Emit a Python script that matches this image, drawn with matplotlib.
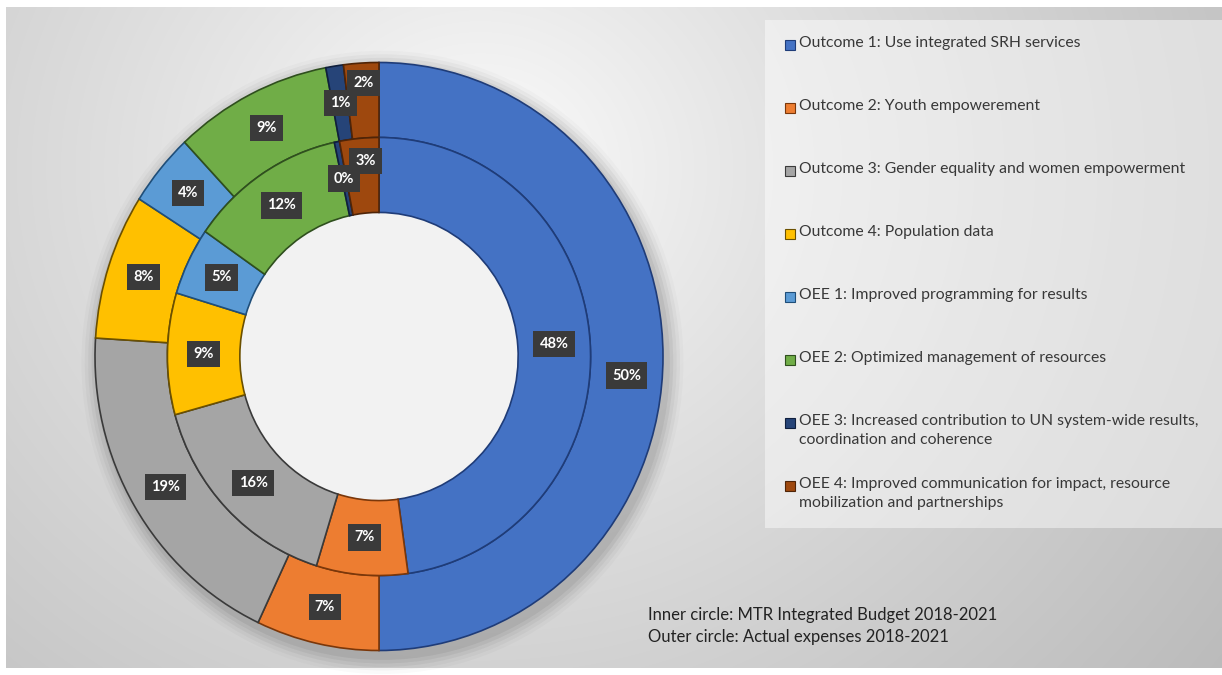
import matplotlib
import numpy as np

matplotlib.use("Agg")
import matplotlib.pyplot as plt
from matplotlib.patches import Ellipse, Rectangle

categories = [
    "Outcome 1: Use integrated SRH services",
    "Outcome 2: Youth empowerement",
    "Outcome 3: Gender equality and women empowerment",
    "Outcome 4: Population data",
    "OEE 1: Improved programming for results",
    "OEE 2: Optimized management of resources",
    "OEE 3: Increased contribution to UN system-wide results,\ncoordination and coherence",
    "OEE 4: Improved communication for impact, resource\nmobilization and partnerships",
]
outer_pct = [50, 7, 19, 8, 4, 9, 1, 2]          # actual expenses 2018-2021
inner_pct = [48, 7, 16, 9, 5, 12, 0.4, 3]       # MTR integrated budget 2018-2021
notes = [
    "Inner circle: MTR Integrated Budget 2018-2021",
    "Outer circle: Actual expenses 2018-2021",
]

colors = ["#4472C4", "#ED7D31", "#A5A5A5", "#FFC000",
          "#5B9BD5", "#70AD47", "#264478", "#9E480E"]
edges = ["#1F3C78", "#7A370A", "#3A3A3A", "#6B5000",
         "#1F4E79", "#2F4F1E", "#0F1F3D", "#4F2407"]

W, H = 1222, 675
FONT = "Lato"
fig = plt.figure(figsize=(W / 100, H / 100), dpi=100)
fig.patch.set_facecolor("white")

# soft radial backdrop
bg = fig.add_axes([6 / W, 7 / H, (W - 6) / W, 661 / H])
yy, xx = np.mgrid[7:668, 6:W]
d = np.hypot(xx - 480, (yy - 170) * 1.1)
v = 1 - 0.26 * np.clip(d / 900, 0, 1.2) ** 0.8
bg.imshow(np.dstack([v, v, v]), aspect="auto", extent=(6, W, 668, 7))
bg.axis("off")

# pixel geometry of the donut (slightly taller than wide)
cx, cy = 379, 356.5
rx, ry = 284, 294
ring = 0.255

ax = fig.add_axes([0, 0, 1, 1])
ax.patch.set_visible(False)

# drop shadow under the rings
for k, a in enumerate([0.05, 0.05, 0.04, 0.03, 0.02]):
    s = 1.0 + 0.012 * (k + 1)
    ax.add_patch(Ellipse((0.012, -0.02), 2 * s, 2 * s, fc="black", ec="none", alpha=a, zorder=0))

outer, _ = ax.pie(outer_pct, radius=1.0, colors=colors, startangle=90, counterclock=False,
                  wedgeprops=dict(width=ring, linewidth=1.2))
inner, _ = ax.pie(inner_pct, radius=1.0 - ring, colors=colors, startangle=90, counterclock=False,
                  wedgeprops=dict(width=ring, linewidth=1.2))
for ws in (outer, inner):
    for w, ec in zip(ws, edges):
        w.set_edgecolor(ec)
        w.set_zorder(2)

# hole fill so the shadow does not show through the middle
ax.add_patch(Ellipse((0, 0), 2 * (1 - 2 * ring), 2 * (1 - 2 * ring), fc="#f2f2f2", ec="none", zorder=1))

# a few labels sit off the wedge centre to stay clear of neighbours
nudge = {("outer", 0): (0.0, -0.065), ("outer", 7): (0.0, 0.06), ("inner", 7): (0.01, 0.05)}

box = dict(boxstyle="square,pad=0.42", fc="#3a3a3a", ec="none")
for name, ws, vals, r in [("outer", outer, outer_pct, 1 - ring / 2),
                          ("inner", inner, inner_pct, 1 - 1.5 * ring)]:
    for i, (w, val) in enumerate(zip(ws, vals)):
        t = np.deg2rad((w.theta1 + w.theta2) / 2)
        dx, dy = nudge.get((name, i), (0, 0))
        ax.text(r * np.cos(t) + dx, r * np.sin(t) + dy, f"{val:.0f}%", ha="center", va="center",
                color="white", fontsize=10.5, fontweight="bold", family=FONT, bbox=box, zorder=5)

ax.set_aspect("auto")
ax.set_xlim(-cx / rx, (W - cx) / rx)
ax.set_ylim(-(H - cy) / ry, cy / ry)
ax.axis("off")

# legend panel
fig.add_artist(Rectangle((765 / W, 1 - 528 / H), (W - 765) / W, 508 / H, transform=fig.transFigure,
                         fc="white", ec="none", alpha=0.45))
for i, (lab, c, ec) in enumerate(zip(categories, colors, edges)):
    yc = 45 + 63 * i
    fig.add_artist(Rectangle((785 / W, 1 - (yc + 5) / H), 10 / W, 10 / H, transform=fig.transFigure,
                             fc=c, ec=ec, lw=0.8))
    fig.text(799 / W, 1 - (yc - 9) / H, lab, ha="left", va="top", fontsize=11.3, family=FONT,
             color="#383838", linespacing=1.42)

for j, n in enumerate(notes):
    fig.text(648 / W, 1 - (615 + 22 * j) / H, n, ha="left", va="center", fontsize=12,
             family=FONT, color="#222222")

fig.savefig("out.png", dpi=100)
